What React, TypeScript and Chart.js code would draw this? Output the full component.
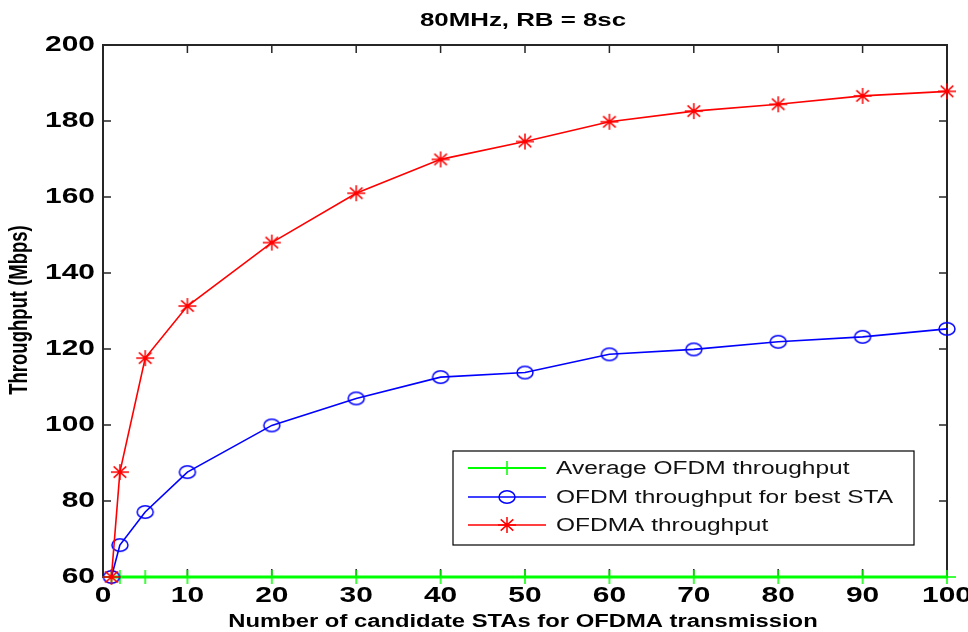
import React, { useEffect, useRef } from "react";
import { Chart, registerables } from "chart.js";

Chart.register(...registerables);

const chartTitle = "80MHz, RB = 8sc";
const xAxisTitle = "Number of candidate STAs for OFDMA transmission";
const yAxisTitle = "Throughput (Mbps)";

const candidates = [1, 2, 5, 10, 20, 30, 40, 50, 60, 70, 80, 90, 100];
const avgOfdm = [60, 60, 60, 60, 60, 60, 60, 60, 60, 60, 60, 60, 60];
const bestSta = [60, 68.4, 77.1, 87.6, 99.9, 107.0, 112.6, 113.8, 118.6, 119.9, 121.9, 123.2, 125.3];
const ofdma = [60, 87.6, 117.6, 131.3, 148.0, 161.0, 169.9, 174.6, 179.8, 182.6, 184.4, 186.6, 187.8];

const xTicks = [0, 10, 20, 30, 40, 50, 60, 70, 80, 90, 100];
const yTicks = [60, 80, 100, 120, 140, 160, 180, 200];

const seriesNames = ["Average OFDM throughput", "OFDM throughput for best STA", "OFDMA throughput"];
const seriesColors = ["#00ff00", "#0000ff", "#ff0000"];

const SX = 1.36;
const FONT = "'Liberation Sans', Arial, sans-serif";

function makeMarker(kind: string, color: string): HTMLCanvasElement {
  const c = document.createElement("canvas");
  c.width = 22;
  c.height = 18;
  const g = c.getContext("2d")!;
  g.strokeStyle = color;
  g.lineWidth = 1.5;
  const cx = 11, cy = 9;
  g.beginPath();
  if (kind === "circle") {
    g.ellipse(cx, cy, 8, 6.3, 0, 0, Math.PI * 2);
  } else if (kind === "star") {
    const rx = 9, ry = 8;
    g.moveTo(cx - rx, cy); g.lineTo(cx + rx, cy);
    g.moveTo(cx, cy - ry); g.lineTo(cx, cy + ry);
    const d = 0.7;
    g.moveTo(cx - rx * d, cy - ry * d); g.lineTo(cx + rx * d, cy + ry * d);
    g.moveTo(cx - rx * d, cy + ry * d); g.lineTo(cx + rx * d, cy - ry * d);
  } else {
    g.moveTo(cx - 9, cy); g.lineTo(cx + 9, cy);
    g.moveTo(cx, cy - 7); g.lineTo(cx, cy + 7);
  }
  g.stroke();
  return c;
}

function text(ctx: CanvasRenderingContext2D, s: string, x: number, y: number, font: string, align: CanvasTextAlign, sx = SX, color = "#000") {
  ctx.save();
  ctx.translate(x, y);
  ctx.scale(sx, 1);
  ctx.font = font;
  ctx.fillStyle = color;
  ctx.textAlign = align;
  ctx.textBaseline = "middle";
  ctx.fillText(s, 0, 0);
  ctx.restore();
}

export default function App() {
  const ref = useRef<HTMLCanvasElement | null>(null);

  useEffect(() => {
    const canvas = ref.current;
    if (!canvas) return;
    const markers = [
      makeMarker("plus", seriesColors[0]),
      makeMarker("circle", seriesColors[1]),
      makeMarker("star", seriesColors[2]),
    ];
    const seriesData = [avgOfdm, bestSta, ofdma];

    const framePlugin = {
      id: "matlabFrame",
      beforeDatasetsDraw(chart: any) {
        const ctx = chart.ctx as CanvasRenderingContext2D;
        const { left, right, top, bottom } = chart.chartArea;
        const xs = chart.scales.x;
        const ys = chart.scales.y;
        ctx.save();
        ctx.fillStyle = "#fff";
        ctx.fillRect(left, top, right - left, bottom - top);
        ctx.strokeStyle = "#262626";
        ctx.lineWidth = 2;
        ctx.strokeRect(left, top, right - left, bottom - top);
        ctx.lineWidth = 1.5;
        ctx.beginPath();
        const tl = 8;
        xTicks.forEach((v) => {
          const px = xs.getPixelForValue(v);
          ctx.moveTo(px, bottom); ctx.lineTo(px, bottom - tl);
          ctx.moveTo(px, top); ctx.lineTo(px, top + tl);
        });
        yTicks.forEach((v) => {
          const py = ys.getPixelForValue(v);
          ctx.moveTo(left, py); ctx.lineTo(left + tl, py);
          ctx.moveTo(right, py); ctx.lineTo(right - tl, py);
        });
        ctx.stroke();
        ctx.restore();

        const tickFont = `bold 22px ${FONT}`;
        xTicks.forEach((v) => {
          text(ctx, String(v), xs.getPixelForValue(v), bottom + 19, tickFont, "center");
        });
        yTicks.forEach((v) => {
          text(ctx, String(v), left - 8, ys.getPixelForValue(v), tickFont, "right");
        });
        text(ctx, chartTitle, (left + right) / 2 - 2, 20.5, `bold 19px ${FONT}`, "center");
        text(ctx, xAxisTitle, 523, 622, `bold 17.5px ${FONT}`, "center");
        ctx.save();
        ctx.translate(20, 310);
        ctx.rotate(-Math.PI / 2);
        ctx.scale(1, SX);
        ctx.font = `bold 18.5px ${FONT}`;
        ctx.fillStyle = "#000";
        ctx.textAlign = "center";
        ctx.textBaseline = "middle";
        ctx.fillText(yAxisTitle, 0, 0);
        ctx.restore();
      },
      afterDraw(chart: any) {
        const ctx = chart.ctx as CanvasRenderingContext2D;
        const bx = 453, by = 451, bw = 461, bh = 94;
        ctx.save();
        ctx.fillStyle = "#fff";
        ctx.fillRect(bx, by, bw, bh);
        ctx.strokeStyle = "#000";
        ctx.lineWidth = 1.2;
        ctx.strokeRect(bx, by, bw, bh);
        const rows = [468, 497, 525];
        seriesNames.forEach((name, i) => {
          const ry = rows[i];
          ctx.strokeStyle = seriesColors[i];
          ctx.lineWidth = i === 0 ? 2 : 1.5;
          ctx.beginPath();
          ctx.moveTo(468, ry); ctx.lineTo(546, ry);
          ctx.stroke();
          const m = markers[i];
          ctx.drawImage(m, 507 - m.width / 2, ry - m.height / 2);
          text(ctx, name, 556, ry + 1, `18px ${FONT}`, "left", 1.36, "#111");
        });
        ctx.restore();
      },
    };

    const chart = new Chart(canvas, {
      type: "line",
      data: {
        datasets: seriesNames.map((name, i) => ({
          label: name,
          data: candidates.map((c, k) => ({ x: c, y: seriesData[i][k] })),
          borderColor: seriesColors[i],
          backgroundColor: seriesColors[i],
          borderWidth: i === 0 ? 3 : 1.6,
          pointStyle: markers[i] as any,
          pointRadius: 8,
          pointHoverRadius: 8,
          tension: 0,
          fill: false,
          clip: false as any,
          order: 2 - i,
        })),
      },
      options: {
        responsive: false,
        animation: false,
        events: [],
        layout: { padding: { top: 45, right: 21, left: 0, bottom: 0 } },
        plugins: {
          legend: { display: false },
          title: { display: false },
          tooltip: { enabled: false },
        },
        scales: {
          x: {
            type: "linear",
            min: 0,
            max: 100,
            ticks: { display: false },
            grid: { display: false },
            border: { display: false },
            afterFit: (s: any) => { s.height = 55; },
          },
          y: {
            type: "linear",
            min: 60,
            max: 200,
            ticks: { display: false },
            grid: { display: false },
            border: { display: false },
            afterFit: (s: any) => { s.width = 103; },
          },
        },
      },
      plugins: [framePlugin],
    });
    return () => chart.destroy();
  }, []);

  return (
    <div style={{ position: "fixed", left: 0, top: 0, width: 968, height: 632, background: "#fff" }}>
      <canvas ref={ref} width={968} height={632} style={{ width: 968, height: 632, display: "block" }} />
    </div>
  );
}
